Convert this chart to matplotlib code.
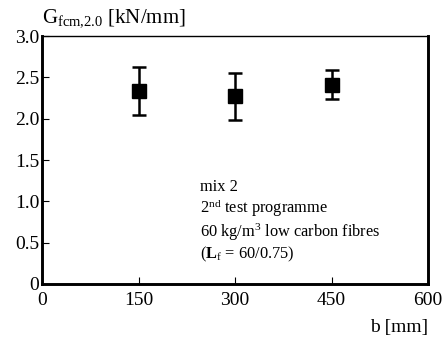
import matplotlib.pyplot as plt

plt.rcParams['font.family'] = ['Liberation Serif', 'DejaVu Serif']
plt.rcParams['mathtext.fontset'] = 'custom'
plt.rcParams['mathtext.rm'] = 'Liberation Serif'
plt.rcParams['mathtext.it'] = 'Liberation Serif'
plt.rcParams['mathtext.bf'] = 'Liberation Serif:bold'

b = [150, 300, 450]
g_mean = [2.34, 2.27, 2.41]
g_low = [2.04, 1.99, 2.24]
g_high = [2.63, 2.56, 2.59]

xticks = [0, 150, 300, 450, 600]
yticks = [0, 0.5, 1.0, 1.5, 2.0, 2.5, 3.0]
ylabels = ['0', '0.5', '1.0', '1.5', '2.0', '2.5', '3.0']

fig = plt.figure(figsize=(4.44, 3.38), dpi=100)
ax = fig.add_axes([0.095, 0.16, 0.869, 0.733])

err = [[m - lo for m, lo in zip(g_mean, g_low)],
       [hi - m for m, hi in zip(g_mean, g_high)]]
ax.errorbar(b, g_mean, yerr=err, fmt='s', color='black', ms=9.5,
            elinewidth=1.8, capsize=5, capthick=1.8)

ax.set_xlim(0, 600)
ax.set_ylim(0, 3.0)
ax.set_xticks(xticks)
ax.set_yticks(yticks)
ax.set_yticklabels(ylabels)
ax.tick_params(direction='in', length=5, width=0.8, labelsize=14, pad=2)
ax.tick_params(axis='x', pad=6)

for side in ['left', 'bottom', 'right']:
    ax.spines[side].set_linewidth(2.1)
ax.spines['top'].set_linewidth(1.0)

fig.text(0.095, 0.915, r'G$_{\mathrm{fcm{,}2.0}}$ [kN/mm]', fontsize=15,
         ha='left', va='bottom')
fig.text(0.964, 0.005, 'b [mm]', fontsize=14, ha='right', va='bottom')

note = ('mix 2\n'
        r'2$^{\mathrm{nd}}$ test programme' '\n'
        r'60 kg/m$^{\mathrm{3}}$ low carbon fibres' '\n'
        r'($\mathbf{L}_{\mathrm{f}}$ = 60/0.75)')
ax.text(245, 1.27, note, fontsize=11.8, ha='left', va='top', linespacing=1.15)

fig.savefig('out.png', dpi=100)
